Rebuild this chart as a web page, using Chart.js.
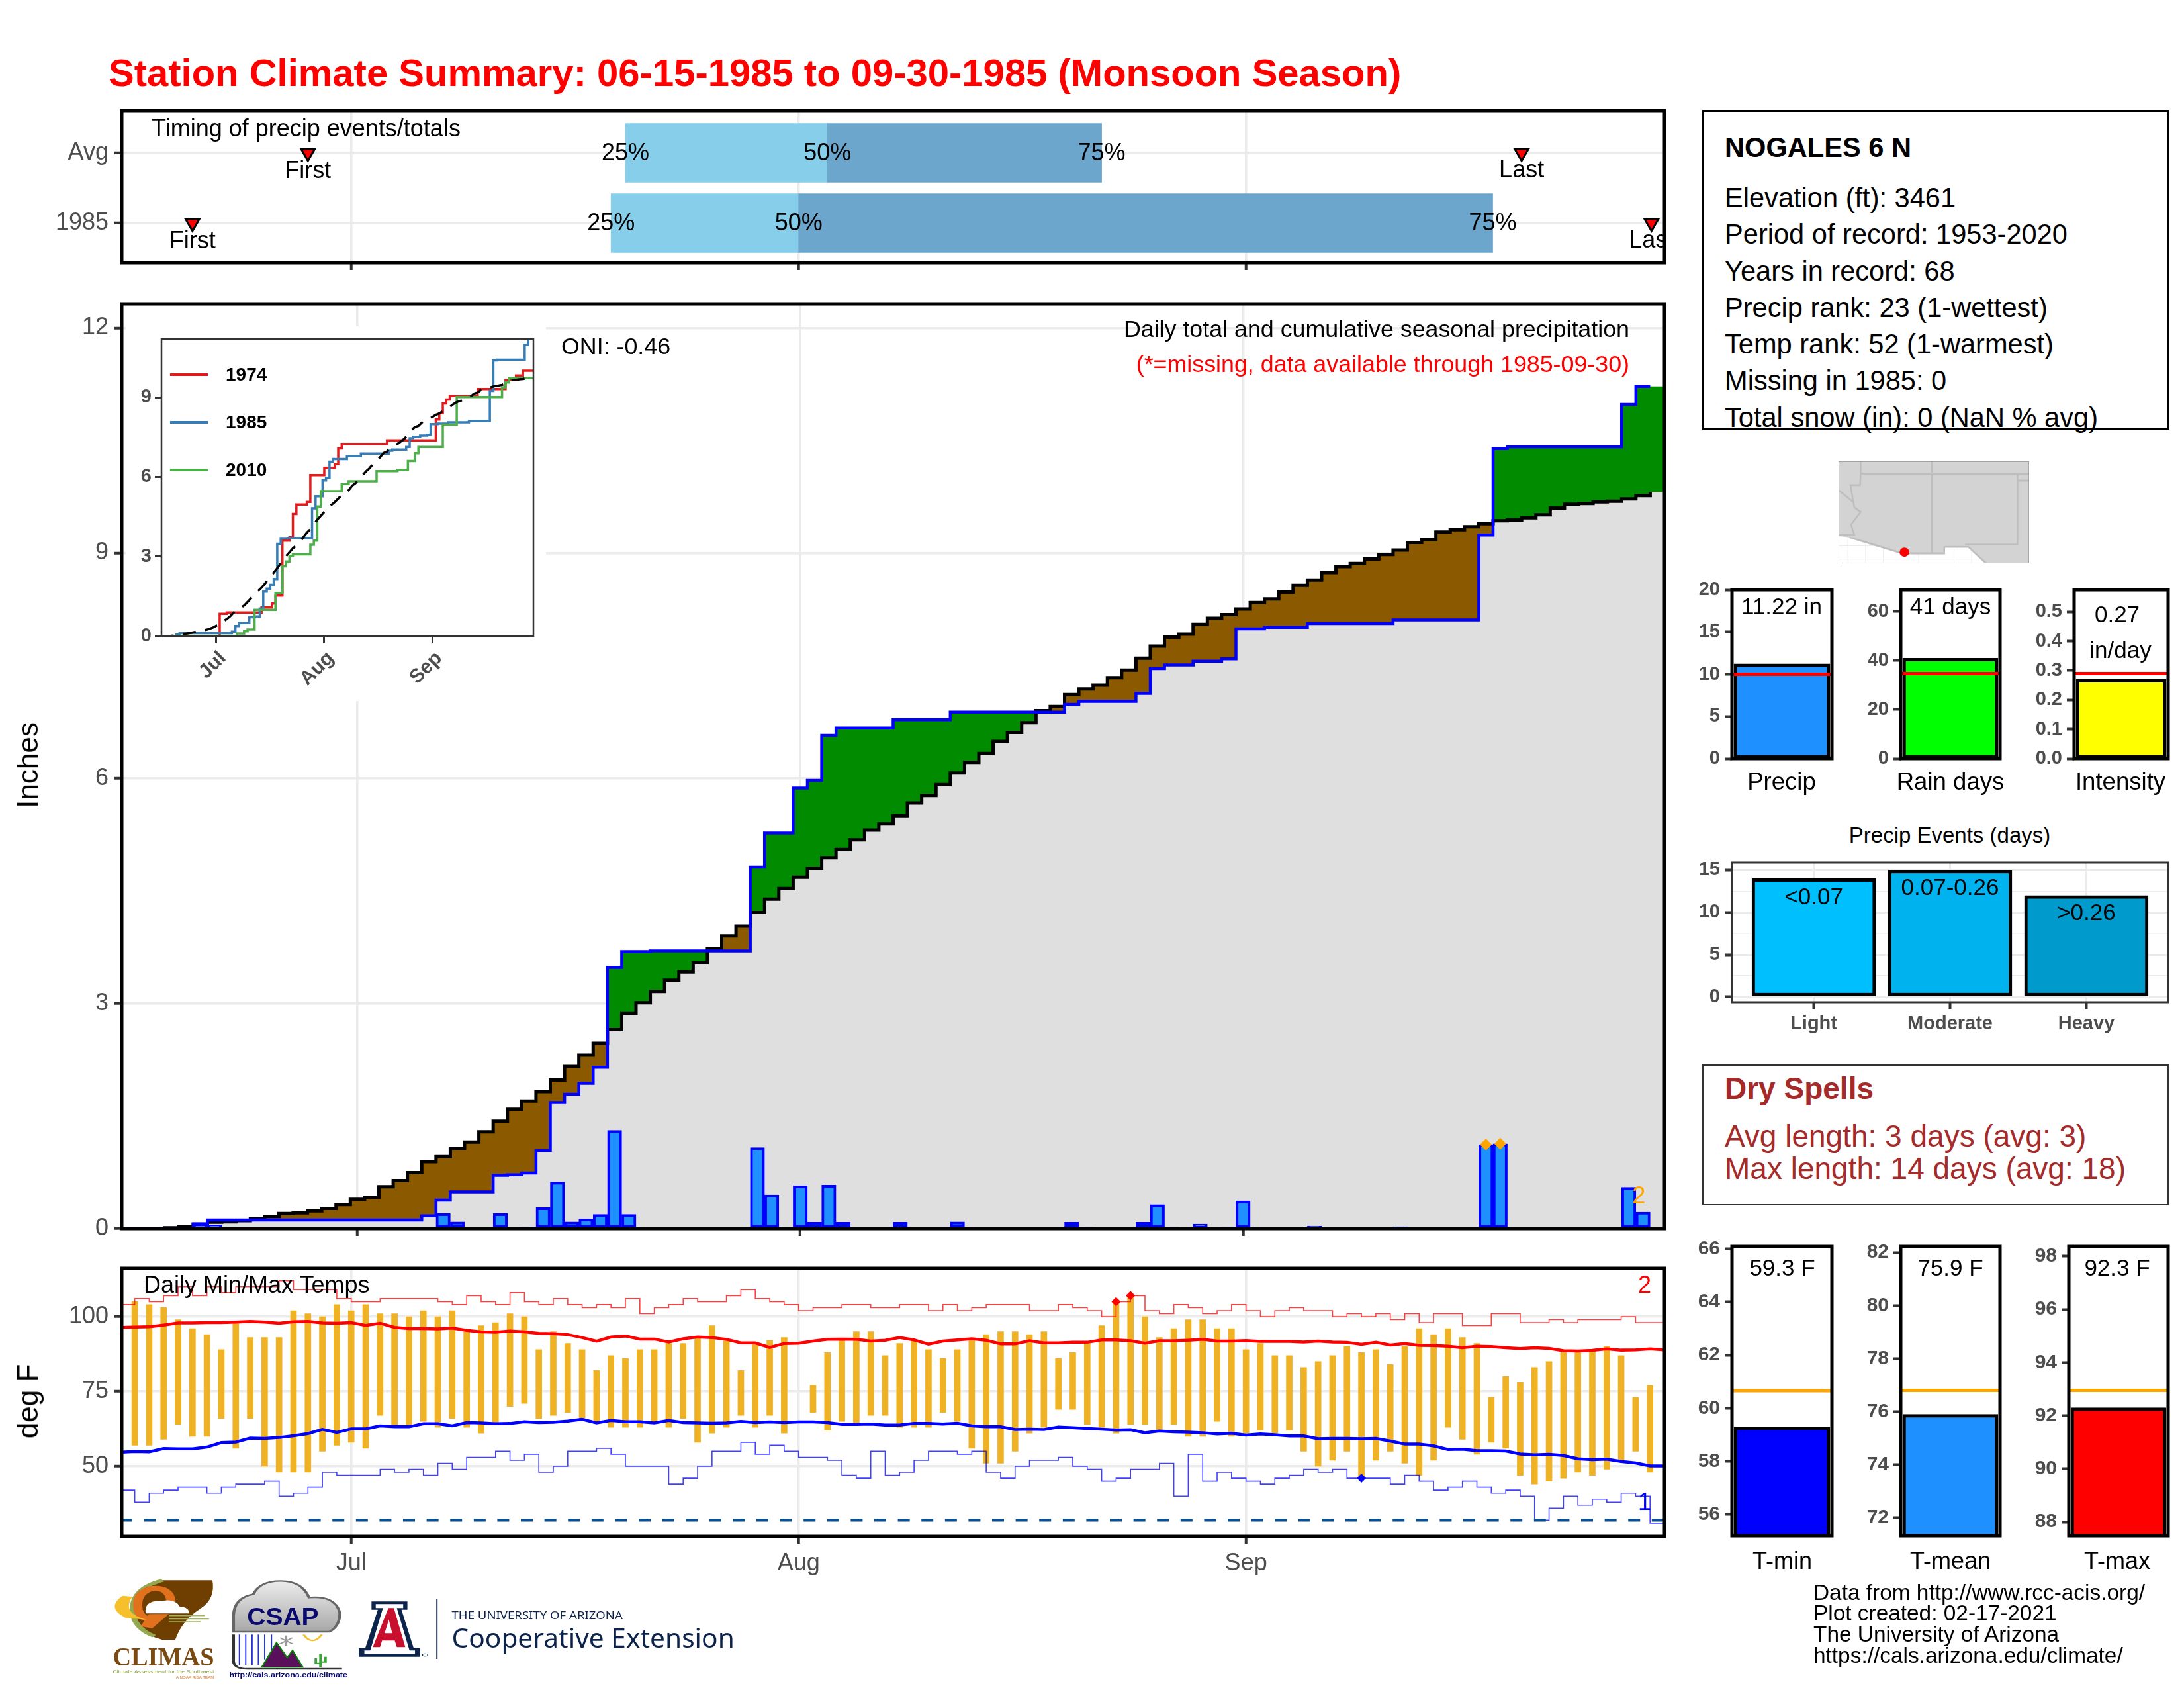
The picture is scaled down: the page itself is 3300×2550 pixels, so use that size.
<!doctype html>
<html><head><meta charset="utf-8">
<style>
html,body{margin:0;background:#fff}
#page{position:relative;width:3300px;height:2550px;overflow:hidden;font-family:"Liberation Sans",sans-serif;background:#fff}
canvas{position:absolute}
.t{position:absolute;white-space:nowrap;line-height:1;color:#000}
.box{position:absolute;box-sizing:border-box}
</style>
<script src="https://cdn.jsdelivr.net/npm/chart.js@4"></script>
</head><body><div id="page"></div>
<script>
// ---------- data (day index: 0 = Jun 15, 107 = Sep 30) ----------
const monthDays=[16,47,78];
const monthNames=['Jul','Aug','Sep'];
const dailyPrecip=[0,0,0,0,0,.05,.05,0,0,0,0,0,0,0,0,0,0,0,0,0,
 0,.01,.2,.09,0,0,.2,.005,.02,.28,
 .62,.09,.13,.19,1.31,.19,0,.005,0,0,
 0,0,0,0,1.08,.45,0,.57,.085,.58,
 .085,0,0,0,.085,0,0,0,.09,0,
 0,0,0,0,0,0,.085,.02,0,0,
 0,.085,.32,.02,0,.06,0,.02,.37,0,
 .01,0,0,.035,0,0,0,0,0,.025,
 0,0,0,0,0,1.12,1.13,.01,0,0,
 0,0,0,0,0,.55,.22,0];
const cumObserved=[0,0,0,0,0,.065,.114,.114,.114,.114,.114,.114,.114,.114,.114,.114,.114,.114,.114,.114,.114,
 .17,.38,.49,.49,.49,.71,.716,.74,1.04,1.68,1.79,1.935,2.15,3.48,3.69,3.69,
 3.70,3.70,3.70,3.70,3.70,3.70,3.70,4.815,5.27,5.27,5.87,5.97,6.57,6.67,6.67,6.67,6.67,
 6.78,6.78,6.78,6.78,6.88,6.88,6.88,6.88,6.88,6.88,6.88,6.88,6.985,7.025,7.025,7.025,7.025,
 7.13,7.46,7.51,7.51,7.56,7.56,7.59,7.99,7.99,8.01,8.01,8.01,8.06,8.06,8.06,8.06,8.06,8.06,
 8.11,8.11,8.11,8.11,8.11,8.11,9.24,10.39,10.415,10.415,10.415,10.415,10.415,10.415,10.415,10.415,10.98,11.22,11.22];
const cumAverage=[0,0,0,.01,.025,.06,.085,.09,.105,.13,.16,.2,.21,.235,.27,.32,.39,.42,.557,.64,.746,.89,.96,1.07,1.154,1.29,1.43,1.59,1.70,1.826,
 1.98,2.16,2.31,2.47,2.65,2.865,3.01,3.16,3.31,3.42,3.54,3.73,3.90,4.03,4.21,4.39,4.53,4.68,4.80,4.94,5.05,5.18,5.31,5.39,5.50,5.67,5.77,5.915,6.07,
 6.21,6.33,6.49,6.61,6.74,6.90,6.955,7.115,7.19,7.24,7.34,7.44,7.6,7.76,7.88,7.92,8.05,8.13,8.18,8.255,8.34,8.39,8.48,8.57,8.64,8.74,8.82,8.86,8.92,8.98,9.04,
 9.14,9.18,9.28,9.31,9.35,9.39,9.43,9.44,9.47,9.51,9.60,9.65,9.66,9.68,9.69,9.72,9.765,9.81];
const markedPrecipDays=[95,96];
const tMaxDaily=[null,105,104,103,99,96,94,89,98,93,93,93,102,101,100,104,102,104,101,101,100,102,100,102,95,97,98,101,100,89,95,91,89,82,87,86,89,89,91,91,93,97,92,82,91,92,93,null,77,88,92,95,95,87,91,92,89,86,89,92,94,95,95,94,95,86,88,91,97,105,107,100,93,96,99,99,96,96,89,91,87,87,83,85,87,90,88,89,84,90,96,94,96,93,91,73,80,78,83,85,88,88,89,90,87,73,77,null];
const tMinDaily=[null,57,57,59,64,60,60,66,56,66,50,48,48,48,55,57,58,56,67,64,64,65,63,66,63,61,64,70,71,66,67,68,66,65,63,63,63,65,63,66,58,61,63,67,63,67,61,null,68,62,65,64,67,67,63,63,63,68,65,56,51,51,55,61,63,69,69,64,63,61,64,64,62,64,60,60,65,60,61,62,61,62,55,50,52,55,46,52,55,51,47,52,63,59,54,58,56,47,44,45,46,48,47,49,52,55,48,null];
const tMaxNormal=[96.4,96.5,96.6,97.2,97.9,97.9,98.0,98.0,98.2,98.4,98.2,97.8,98.3,98.4,97.9,97.8,98.0,97.1,97.8,96.4,96.0,96.0,95.9,96.2,95.4,94.9,94.8,95.2,94.9,94.4,94.3,94.0,93.0,91.8,93.2,93.5,92.5,92.5,91.5,92.6,93.2,93.0,92.4,91.2,91.2,89.7,91.0,91.1,91.8,92.4,92.5,92.4,91.8,92.1,93.0,
 92.2,90.8,91.8,92.2,92.6,92.1,90.9,90.9,91.9,91.2,91.2,91.4,91.4,92.2,92.2,91.9,91.1,91.9,91.9,92.1,92.4,91.8,91.8,92.0,91.7,91.7,91.7,91.5,91.8,91.5,91.4,90.7,91.4,90.5,91.0,90.4,90.3,90.1,89.6,90.1,90.0,89.6,89.3,89.6,89.4,88.6,88.5,88.7,89.2,88.8,88.9,89.2,88.9];
const tMinNormal=[54.7,54.9,54.8,55.9,55.8,55.8,56.4,57.9,58.1,59.4,59.3,59.6,60.2,60.9,62.3,61.3,62.5,62.5,63.5,63.2,63.2,64.2,64.2,63.5,64.6,64.5,64.2,64.3,64.9,64.6,64.7,65.1,65.7,64.5,65.3,64.9,64.9,64.5,65.3,64.6,64.5,64.4,64.5,65.0,64.6,64.8,64.6,64.8,64.8,64.6,64.0,64.0,64.1,63.8,63.8,
 64.3,64.3,64.1,64.4,63.5,63.2,63.2,62.3,62.4,62.3,63.1,62.9,62.6,62.4,62.1,62.2,61.2,61.8,61.5,61.4,61.2,60.8,61.0,60.4,60.8,60.5,60.1,60.1,59.2,59.3,59.3,59.2,59.3,58.4,57.4,57.4,56.8,55.6,55.7,55.2,55.2,55.1,54.1,53.8,54.0,53.6,52.5,52.2,52.4,51.6,51.1,50.1,50.1];
const tMaxRecord=[104,106,105,107,110,107,110,108,110,110,110,112,109,109,109,106,105,105,106,106,106,106,105,104,107,105,104,108,105,104,106,104,103,104,103,106,101,103,104,106,105,105,107,109,106,105,104,102,103,103,104,104,103,103,104,
 104,102,104,102,103,104,104,104,102,102,104,103,102,100,105,107,102,101,104,103,101,102,104,102,100,102,103,102,102,100,101,100,101,99,101,98,101,101,97,97,101,101,98,98,99,98,99,99,99,100,98,98,98];
const tMinRecord=[42,38,41,42,43,43,41,43,44,44,45,40,41,43,48,47,47,47,49,48,49,47,51,49,53,53,55,52,54,48,50,55,55,56,54,50,50,50,44,46,50,55,55,58,54,57,55,53,53,52,47,46,55,47,48,
 52,55,55,54,55,48,46,50,52,52,53,50,49,45,46,49,49,51,40,54,45,48,46,45,44,46,47,49,48,49,46,46,46,44,47,45,42,43,45,43,41,42,40,32,36,40,37,39,38,41,40,31,31];
const freezingLine=32;
const recordHighDays=[69,70];
const recordLowDays=[86];
const days1974=[16,17,19,29,32,33,35,37,38,39,42,43,47,50,51,52,65,79,80,81,82,83,91,99,102,104];
const vals1974=[0,.84,.89,1.08,1.23,1.53,3.6,3.72,4.6,4.96,5.06,6.07,6.34,6.48,7.07,7.24,7.38,8.16,8.4,8.77,8.92,9.05,9.31,9.65,9.82,10.0];
const days2010=[22,24,25,27,33,35,36,37,38,43,44,45,46,52,54,62,68,71,73,74,81,85,98,99,100];
const vals2010=[.1,.18,.25,.99,1.63,2.63,2.81,3.02,3.08,3.44,3.6,4.88,5.46,5.73,5.84,6.22,6.27,6.6,6.89,7.13,7.97,9.01,9.38,9.56,9.72];
const timingRows=['1985','Avg'];
const q25=[34,35], q50=[47,49], q75=[95.1,68], firstDay=[5,13], lastDay=[106.1,97.1];
const precipTicks=[0,5,10,15,20], rainTicks=[0,20,40,60], intensityTicks=[0,.1,.2,.3,.4,.5];
const summaryValues={precip:11.22,rain:41,intensity:.27};
const summaryAvg={precip:10,rain:34.7,intensity:.29};
const eventCats=['Light','Moderate','Heavy'], eventVals=[14,15,12], eventText=['<0.07','0.07-0.26','>0.26'];
const eventColors=['#00BFFF','#00B2EE','#009ACD'];
const tValues={min:59.3,mean:75.9,max:92.3}, tAvg={min:60.66,mean:76.8,max:92.95};
const tMinTicks=[56,58,60,62,64,66], tMeanTicks=[72,74,76,78,80,82], tMaxTicks=[88,90,92,94,96,98];

// ---------- helpers ----------
const page=document.getElementById('page');
const FONT='"Liberation Sans", sans-serif';
Chart.defaults.font.family=FONT;
Chart.defaults.animation=false;
Chart.defaults.plugins.legend.display=false;
Chart.defaults.plugins.tooltip.enabled=false;
Chart.register({id:'frame',afterDatasetsDraw(c,a,o){if(!o.width)return;const k=c.chartArea,x=c.ctx;x.save();x.strokeStyle=o.color||'#000';x.lineWidth=o.width;x.strokeRect(k.left,k.top,k.right-k.left,k.bottom-k.top);x.restore();}});
Chart.register({id:'notes',afterDatasetsDraw(c,a,o){if(!o.items)return;const k=c.chartArea,x=c.ctx;x.save();x.beginPath();x.rect(k.left,k.top,k.right-k.left,k.bottom-k.top);x.clip();x.textAlign='center';x.textBaseline='middle';
 o.items.forEach(n=>{x.fillStyle=n.color||'#000';x.font=n.font||('36px '+FONT);x.fillText(n.text,c.scales.x.getPixelForValue(n.x),c.scales.y.getPixelForValue(n.y)+(n.dy||0));});x.restore();}});
function txt(s,x,cy,o={}){const d=document.createElement('div');d.className='t';d.textContent=s;d.style.left=x+'px';d.style.top=cy+'px';d.style.fontSize=(o.size||35)+'px';
 if(o.weight)d.style.fontWeight=o.weight;if(o.color)d.style.color=o.color;if(o.family)d.style.fontFamily=o.family;
 const tx=o.align==='center'?'-50%':o.align==='right'?'-100%':'0';d.style.transform=`translate(${tx},-50%)`+(o.rotate?` rotate(${o.rotate}deg)`:'');d.style.zIndex=5;page.appendChild(d);return d;}
function box(x,y,w,h,b){const d=document.createElement('div');d.className='box';Object.assign(d.style,{left:x+'px',top:y+'px',width:w+'px',height:h+'px',border:b});page.appendChild(d);return d;}
function zeroPad(s){s.paddingTop=s.paddingBottom=s.paddingLeft=s.paddingRight=0;}
function mk(area,sp,cfg,bg){const {left=0,bottom=0,top=6,right=6}=sp;const c=document.createElement('canvas');const W=left+area.w+right,H=top+area.h+bottom+(sp.pb||0);c.width=W;c.height=H;c.style.left=(area.x-left)+'px';c.style.top=(area.y-top)+'px';c.style.width=W+'px';c.style.height=H+'px';if(bg)c.style.background=bg;page.appendChild(c);
 cfg.options=Object.assign({responsive:false,maintainAspectRatio:false,devicePixelRatio:1,animation:false,layout:{autoPadding:false,padding:{left:0,right,top,bottom:sp.pb||0}}},cfg.options);
 const sc=cfg.options.scales;
 if(sc.y){sc.y.offset=false;sc.y.grid=Object.assign({offset:false},sc.y.grid);sc.y.afterFit=s=>{s.width=left;zeroPad(s);};}
 if(sc.x){sc.x.offset=false;sc.x.grid=Object.assign({offset:false},sc.x.grid);if(sc.x.display!==false)sc.x.afterFit=s=>{s.height=bottom;zeroPad(s);};}
 return new Chart(c.getContext('2d'),cfg);}
const setTicks=arr=>s=>{s.ticks=arr.map(v=>({value:v}));};
const GRID='#ebebeb',TICK='#333333',LAB='#4d4d4d';
function monthAxis(showLabels,min=.1,max=107){return {type:'linear',min,max,afterBuildTicks:setTicks(monthDays),border:{display:false},
 grid:{color:GRID,lineWidth:3.5,tickColor:TICK,tickWidth:4,tickLength:11},
 ticks:{display:showLabels,autoSkip:false,maxRotation:0,color:LAB,font:{size:36},padding:8,callback:v=>monthNames[monthDays.indexOf(v)]}};}
function valueAxis(min,max,ticks,size){return {type:'linear',min,max,afterBuildTicks:setTicks(ticks),border:{display:false},grid:{color:GRID,lineWidth:3.5,tickColor:TICK,tickWidth:4,tickLength:11},
 ticks:{autoSkip:false,color:LAB,font:{size:size||36},padding:9,callback:v=>String(v)}};}
const allDays=dailyPrecip.map((_,i)=>i);
const STEP=.5;
const stepPts=a=>a.map((v,i)=>({x:i-STEP,y:v}));
const stepPtsFull=a=>stepPts(a).concat([{x:107.6,y:a[a.length-1]}]);
const chPts=(d,v)=>[{x:0,y:0}].concat(d.map((x,i)=>({x,y:v[i]}))).concat([{x:107,y:v[v.length-1]}]);

// ---------- text ----------
txt('Station Climate Summary: 06-15-1985 to 09-30-1985 (Monsoon Season)',164,110,{size:58,weight:'bold',color:'#ff0000'});
txt('Inches',42,1156,{size:44,align:'center',rotate:-90});
txt('deg F',42,2117,{size:44,align:'center',rotate:-90});

// ---------- timing panel ----------
mk({x:184,y:167,w:2331,h:230},{left:184,bottom:14,top:6,right:12},{type:'line',data:{datasets:[
 {type:'bar',indexAxis:'y',order:5,data:timingRows.map((r,i)=>({y:i,x:[q25[i],q50[i]]})),backgroundColor:'#87CEEB',barThickness:89,grouped:false},
 {type:'bar',indexAxis:'y',order:4,data:timingRows.map((r,i)=>({y:i,x:[q50[i],q75[i]]})),backgroundColor:'#6CA6CD',barThickness:89,grouped:false},
 {type:'scatter',order:1,showLine:false,data:timingRows.map((r,i)=>({y:i,x:firstDay[i]})).concat(timingRows.map((r,i)=>({y:i,x:lastDay[i]}))),pointStyle:'triangle',rotation:180,pointRadius:12,backgroundColor:'#ff0000',borderColor:'#000',borderWidth:3}
 ]},options:{scales:{x:monthAxis(false),y:{type:'linear',min:-.566,max:1.604,afterBuildTicks:setTicks([0,1]),border:{display:false},grid:{color:GRID,lineWidth:3.5,tickColor:TICK,tickWidth:4,tickLength:11},ticks:{autoSkip:false,color:LAB,font:{size:36},padding:9,callback:v=>timingRows[v]}}},
 plugins:{frame:{width:5},notes:{items:timingRows.flatMap((r,i)=>[
  {x:firstDay[i],y:i,text:'First',dy:28},{x:lastDay[i],y:i,text:'Last',dy:27},
  {x:q25[i],y:i,text:'25%',dy:1},{x:q50[i],y:i,text:'50%',dy:1},{x:q75[i],y:i,text:'75%',dy:1}])}}}});
txt('Timing of precip events/totals',229,194,{size:36});

// ---------- main precipitation panel (bars occupy one slot per day, so the axis runs edge to edge) ----------
mk({x:184,y:459,w:2331,h:1397},{left:184,bottom:16,top:6,right:12},{type:'line',data:{datasets:[
 {label:'under average',order:20,data:stepPtsFull(cumAverage),stepped:true,borderWidth:0,pointRadius:0,borderColor:'transparent',fill:{target:'origin',above:'#dfdfdf'},backgroundColor:'#dfdfdf'},
 {label:'under observed',order:19,data:stepPtsFull(cumObserved),stepped:true,borderWidth:0,pointRadius:0,borderColor:'transparent',fill:{target:'origin',above:'#dfdfdf'},backgroundColor:'#dfdfdf'},
 {label:'departure',order:10,data:stepPtsFull(cumObserved),stepped:true,borderWidth:0,pointRadius:0,borderColor:'transparent',fill:{target:0,above:'#008B00',below:'#8B5A00'}},
 {label:'average',order:5,data:stepPts(cumAverage),stepped:true,borderColor:'#000',borderWidth:5,pointRadius:0,fill:false},
 {label:'1985',order:4,data:stepPts(cumObserved),stepped:true,borderColor:'#0000ff',borderWidth:4.5,pointRadius:0,fill:false},
 {type:'bar',label:'daily',order:3,data:allDays.map(i=>({x:i,y:dailyPrecip[i]})),backgroundColor:'#1E90FF',borderColor:'#0000ff',borderWidth:4,borderSkipped:false,barPercentage:1,categoryPercentage:1},
 {type:'scatter',order:1,showLine:false,data:markedPrecipDays.map(i=>({x:i,y:dailyPrecip[i]})),pointStyle:'rectRot',pointRadius:9,backgroundColor:'#FFA500',borderColor:'#FFA500',borderWidth:0}
 ]},options:{scales:{x:monthAxis(false,-.5,107.5),y:valueAxis(0,12.32,[0,3,6,9,12])},
 plugins:{frame:{width:5},notes:{items:[{x:105.7,y:.42,text:'2',color:'#FFA500',font:'36px '+FONT}]}}}});
txt('ONI: -0.46',848,524,{size:35.8});
txt('Daily total and cumulative seasonal precipitation',2462,498,{size:35.8,align:'right'});
txt('(*=missing, data available through 1985-09-30)',2462,550.5,{size:35.8,align:'right',color:'#ff0000'});

// ---------- inset ----------
mk({x:244,y:512,w:562,h:449},{left:54,bottom:98,top:19,right:19},{type:'line',data:{datasets:[
 {order:4,data:chPts(days1974,vals1974),stepped:true,borderColor:'#E41A1C',borderWidth:3.5,pointRadius:0},
 {order:3,data:stepPts(cumObserved),stepped:true,borderColor:'#377EB8',borderWidth:3.5,pointRadius:0},
 {order:2,data:chPts(days2010,vals2010),stepped:true,borderColor:'#4DAF4A',borderWidth:3.5,pointRadius:0},
 {order:1,data:allDays.map(i=>({x:i,y:cumAverage[i]})),borderColor:'#000',borderWidth:3.5,borderDash:[20,14],pointRadius:0}
 ]},options:{scales:{
  x:{type:'linear',min:.3,max:107,afterBuildTicks:setTicks(monthDays),border:{display:false},grid:{drawOnChartArea:false,tickColor:TICK,tickWidth:3,tickLength:10},ticks:{autoSkip:false,minRotation:45,maxRotation:45,labelOffset:10,color:LAB,font:{size:30,weight:'bold'},padding:6,callback:v=>monthNames[monthDays.indexOf(v)]}},
  y:{type:'linear',min:0,max:11.2,afterBuildTicks:setTicks([0,3,6,9]),border:{display:false},grid:{drawOnChartArea:false,tickColor:TICK,tickWidth:3,tickLength:10},ticks:{autoSkip:false,color:LAB,font:{size:29,weight:'bold'},padding:5,callback:v=>String(v)}}},
 plugins:{frame:{width:2.5,color:'#333'}}}},'#fff');
[['1974','#E41A1C',566],['1985','#377EB8',638],['2010','#4DAF4A',710]].forEach(([s,c,y])=>{const l=document.createElement('div');l.className='box';Object.assign(l.style,{left:'257px',top:(y-2)+'px',width:'57px',height:'4px',background:c,zIndex:5});page.appendChild(l);txt(s,341,y,{size:28,weight:'bold'});});

// ---------- temperature panel ----------
const rangeIdx=allDays.filter(i=>tMaxDaily[i]!==null);
mk({x:184,y:1916,w:2331,h:405},{left:184,bottom:78,top:6,right:12},{type:'line',data:{datasets:[
 {type:'bar',order:6,data:rangeIdx.map(i=>({x:i,y:[tMinDaily[i],tMaxDaily[i]]})),backgroundColor:'#EFB225',barThickness:9},
 {order:5,data:allDays.map(i=>({x:i,y:tMaxRecord[i]})),stepped:true,borderColor:'rgba(255,0,0,.75)',borderWidth:1.6,pointRadius:0},
 {order:5,data:allDays.map(i=>({x:i,y:tMinRecord[i]})),stepped:true,borderColor:'rgba(0,0,255,.75)',borderWidth:1.6,pointRadius:0},
 {order:4,data:allDays.map(i=>({x:i,y:freezingLine})),borderColor:'#104E8B',borderWidth:4.5,borderDash:[18,17.6],pointRadius:0},
 {order:3,data:allDays.map(i=>({x:i,y:tMaxNormal[i]})),borderColor:'#ff0000',borderWidth:4.5,pointRadius:0},
 {order:3,data:allDays.map(i=>({x:i,y:tMinNormal[i]})),borderColor:'#0000ff',borderWidth:4.5,pointRadius:0},
 {type:'scatter',order:1,showLine:false,data:recordHighDays.map(i=>({x:i,y:tMaxRecord[i]})),pointStyle:'rectRot',pointRadius:7,backgroundColor:'#ff0000',borderWidth:0},
 {type:'scatter',order:1,showLine:false,data:recordLowDays.map(i=>({x:i,y:tMinRecord[i]})),pointStyle:'rectRot',pointRadius:7,backgroundColor:'#0000ff',borderWidth:0}
 ]},options:{scales:{x:monthAxis(true),y:valueAxis(26.55,116.15,[50,75,100])},plugins:{frame:{width:5}}}});
txt('Daily Min/Max Temps',217,1941,{size:36});
txt('2',2485,1941,{size:36,color:'#ff0000',align:'center'});
txt('1',2485,2269,{size:36,color:'#0000ff',align:'center'});

// ---------- station box ----------
box(2572,166,705,484,'3px solid #000');
txt('NOGALES 6 N',2606,223,{size:41.6,weight:'bold'});
['Elevation (ft): 3461','Period of record: 1953-2020','Years in record: 68','Precip rank: 23 (1-wettest)','Temp rank: 52 (1-warmest)','Missing in 1985: 0','Total snow (in): 0 (NaN % avg)'].forEach((s,i)=>txt(s,2606,[299,354,410,465,520,575,631][i],{size:41.6}));

// ---------- location map ----------
page.insertAdjacentHTML('beforeend',`<svg style="position:absolute;left:2778px;top:697px" width="288" height="154" viewBox="491 30 593 266" preserveAspectRatio="none">
<rect x="491" y="30" width="593" height="266" fill="#fff"/>
<path d="M491 250H1084M491 285H1084M520 225V296M575 235V296M630 250V296M740 270V296M850 260V296M905 260V296" stroke="#ececec" stroke-width="2" fill="none"/>
<path d="M491 30H1084V296H950L895 253H820V270H690L525 228L491 225Z" fill="#D3D3D3"/>
<path d="M560 30V62H1084M781 30V270M1048 62V247H885M1048 80H1084M491 105L535 135M560 62L558 92H528L540 150L560 162L530 195L540 222L491 222M525 228L690 270H820V253H895L950 296" stroke="#BEBEBE" stroke-width="5" fill="none"/>
<ellipse cx="696" cy="267" rx="15" ry="12" fill="#ff0000"/>
<rect x="491" y="30" width="593" height="266" fill="none" stroke="#7f7f7f" stroke-width="2"/></svg>`);

// ---------- precip summary bars ----------
function summaryBar(area,yMin,yMax,ticks,val,col,ref,refCol,fmt,size){
 return mk(area,{left:area.left,top:22,right:6,pb:22},{type:'line',data:{datasets:[
  {type:'bar',order:3,data:[{x:.5,y:val}],backgroundColor:col,borderColor:'#000',borderWidth:5,borderSkipped:false,barThickness:area.w-6},
  {order:1,data:[{x:0,y:ref},{x:1,y:ref}],borderColor:refCol,borderWidth:5,pointRadius:0}
 ]},options:{scales:{x:{type:'linear',display:false,min:0,max:1},
  y:{type:'linear',min:yMin,max:yMax,afterBuildTicks:setTicks(ticks),border:{display:false},grid:{drawOnChartArea:false,tickColor:TICK,tickWidth:4,tickLength:11},ticks:{autoSkip:false,color:LAB,font:{size:size||29,weight:'bold'},padding:7,callback:fmt||(v=>String(v))}}},
  plugins:{frame:{width:5}}}});
}
summaryBar({x:2617,y:891,w:151,h:255,left:80},0,20,precipTicks,summaryValues.precip,'#1E90FF',summaryAvg.precip,'#ff0000');
summaryBar({x:2872,y:891,w:150,h:255,left:80},0,68.9,rainTicks,summaryValues.rain,'#00FF00',summaryAvg.rain,'#ff0000');
summaryBar({x:3134,y:891,w:142,h:255,left:80},0,.575,intensityTicks,summaryValues.intensity,'#FFFF00',summaryAvg.intensity,'#ff0000',v=>v.toFixed(1));
txt('11.22 in',2692,915,{size:35,align:'center'});
txt('41 days',2947,915,{size:35,align:'center'});
txt('0.27',3199,927,{size:35,align:'center'});
txt('in/day',3204,981,{size:35,align:'center'});
txt('Precip',2692,1181,{size:36.6,align:'center'});
txt('Rain days',2947,1181,{size:36.6,align:'center'});
txt('Intensity',3204,1181,{size:36.6,align:'center'});

// ---------- precip events ----------
txt('Precip Events (days)',2946,1261,{size:33,align:'center'});
mk({x:2617,y:1303,w:659,h:211},{left:80,bottom:53,top:6,right:6},{type:'line',data:{datasets:[
 {type:'bar',data:eventVals.map((v,i)=>({x:i+1,y:v})),backgroundColor:eventColors,borderColor:'#000',borderWidth:5,borderSkipped:false,barThickness:187}
 ]},options:{scales:{
  x:{type:'linear',min:.4,max:3.6,afterBuildTicks:setTicks([1,2,3]),border:{display:false},grid:{color:GRID,lineWidth:3,tickColor:TICK,tickWidth:4,tickLength:11},ticks:{autoSkip:false,maxRotation:0,color:LAB,font:{size:29,weight:'bold'},padding:5,callback:v=>eventCats[v-1]}},
  y:{type:'linear',min:-.63,max:15.9,afterBuildTicks:setTicks([0,2.5,5,7.5,10,12.5,15]),border:{display:false},grid:{color:GRID,lineWidth:c=>c.tick.value%5===0?3:1.5,tickColor:c=>c.tick.value%5===0?TICK:'transparent',tickWidth:4,tickLength:11},ticks:{autoSkip:false,color:LAB,font:{size:29,weight:'bold'},padding:7,callback:v=>v%5===0?String(v):''}}},
  plugins:{frame:{width:3,color:'#333'},notes:{items:eventVals.map((v,i)=>({x:i+1,y:v,text:eventText[i],dy:[29,28,28][i],font:'35px '+FONT}))}}}});

// ---------- dry spells ----------
box(2572,1608,705,213,'2px solid #333');
txt('Dry Spells',2606,1644,{size:46,weight:'bold',color:'#A52A2A'});
txt('Avg length: 3 days (avg: 3)',2606,1716,{size:46,color:'#A52A2A'});
txt('Max length: 14 days (avg: 18)',2606,1765,{size:46,color:'#A52A2A'});

// ---------- temperature summary bars ----------
function tempBar(x,w,yMin,yMax,ticks,val,col,ref){return summaryBar({x,y:1883,w,h:437,left:80},yMin,yMax,ticks,val,col,ref,'#FFA500',null,30);}
tempBar(2617,151,55.2,66.09,tMinTicks,tValues.min,'#0000ff',tAvg.min);
tempBar(2872,150,71.32,82.23,tMeanTicks,tValues.mean,'#1E90FF',tAvg.mean);
tempBar(3126,150,87.48,98.37,tMaxTicks,tValues.max,'#ff0000',tAvg.max);
txt('59.3 F',2693,1914,{size:35,align:'center'});
txt('75.9 F',2947,1914,{size:35,align:'center'});
txt('92.3 F',3199,1914,{size:35,align:'center'});
txt('T-min',2693,2358,{size:36,align:'center'});
txt('T-mean',2947,2358,{size:36,align:'center'});
txt('T-max',3199,2358,{size:36,align:'center'});
['Data from http://www.rcc-acis.org/','Plot created: 02-17-2021','The University of Arizona','https://cals.arizona.edu/climate/'].forEach((s,i)=>txt(s,2740,[2406,2437,2469,2501][i],{size:33.4}));

// ---------- logos ----------
page.insertAdjacentHTML('beforeend',`<svg style="position:absolute;left:150px;top:2350px" width="1000" height="200" viewBox="0 0 1568 600" preserveAspectRatio="none">
<defs><linearGradient id="cl" x1="0" y1="0" x2="0" y2="1"><stop offset="0" stop-color="#ececec"/><stop offset="1" stop-color="#a8a8a8"/></linearGradient></defs>
<path d="M150 112H268Q276 195 240 240Q195 295 180 382H150Q88 350 80 270Q72 165 150 112Z" fill="#6E3F00"/>
<path d="M150 112Q72 150 80 265Q85 330 130 365" stroke="#94A94F" stroke-width="14" fill="none"/>
<path d="M170 205Q165 140 122 150Q85 170 92 245Q97 280 118 290" stroke="#E2711D" stroke-width="22" fill="none"/>
<path d="M110 262Q105 200 150 205Q180 195 190 230Q215 235 212 262Z" fill="#fff"/>
<path d="M118 265H165L125 330L98 320Z" fill="#E2711D"/>
<path d="M55 182Q15 235 62 282L112 290Q52 262 78 186Z" fill="#F5C02C"/>
<path d="M165 272H250M165 286H260M165 300H240" stroke="#A3B55E" stroke-width="5"/>
<text x="32" y="498" font-family="Liberation Serif" font-weight="bold" font-size="120" fill="#7A4A12" textLength="240" lengthAdjust="spacingAndGlyphs">CLIMAS</text>
<text x="32" y="533" font-size="22" fill="#8A9F48" textLength="240" lengthAdjust="spacingAndGlyphs">Climate Assessment for the Southwest</text>
<text x="182" y="558" font-size="18" fill="#D9772B" textLength="90" lengthAdjust="spacingAndGlyphs">A NOAA RISA TEAM</text>
<path d="M318 345V270Q320 190 365 175Q380 115 430 115Q480 115 497 190Q560 180 570 260Q570 320 545 345Z" fill="url(#cl)" stroke="#666" stroke-width="7"/>
<text x="350" y="315" font-weight="bold" font-size="112" fill="#0A0A6E" textLength="170" lengthAdjust="spacingAndGlyphs">CSAP</text>
<path d="M332 358V495M347 358V495M362 358V495M377 358V495M392 358V470M408 358V440" stroke="#2030E0" stroke-width="3"/>
<path d="M318 358V480Q320 513 350 513H575" stroke="#333" stroke-width="7" fill="none"/>
<path d="M385 506L420 395L445 462L458 430L482 506Z" fill="#5A0F5A" stroke="#0A7A0A" stroke-width="4"/>
<path d="M443 362V410M428 372L458 400M458 372L428 400" stroke="#999" stroke-width="5"/>
<path d="M484 358Q505 412 527 358" stroke="#F5C02C" stroke-width="6" fill="none"/>
<path d="M524 445V506M513 465V488H524M536 458V482H524" stroke="#3BA53B" stroke-width="6" fill="none"/>
<text x="308" y="553" font-weight="bold" font-size="30" fill="#0A0A6E" textLength="280" lengthAdjust="spacingAndGlyphs">http://cals.arizona.edu/climate</text>
<path d="M645 208H730V245H716L745 420H760V458H615V420H630L660 245H645Z" fill="#0C234B"/>
<path d="M655 220H720V238H705L735 430H748V445H628V430H642L672 238H655Z" fill="#fff"/>
<path d="M685 238H698L725 415H705L700 385H670L665 415H648Z" fill="#C8102E"/>
<path d="M676 352H694L686 290Z" fill="#fff"/>
<circle cx="772" cy="450" r="6" fill="none" stroke="#0C234B" stroke-width="2"/>
<path d="M800 198V468" stroke="#0C234B" stroke-width="3"/>
<text x="835" y="287" font-family="Noto Sans" font-size="50" fill="#0C234B" textLength="405" lengthAdjust="spacingAndGlyphs">THE UNIVERSITY OF ARIZONA</text>
<text x="835" y="418" font-family="Noto Sans" font-size="118" fill="#0C234B" textLength="670" lengthAdjust="spacingAndGlyphs">Cooperative Extension</text>
</svg>`);
</script></body></html>
